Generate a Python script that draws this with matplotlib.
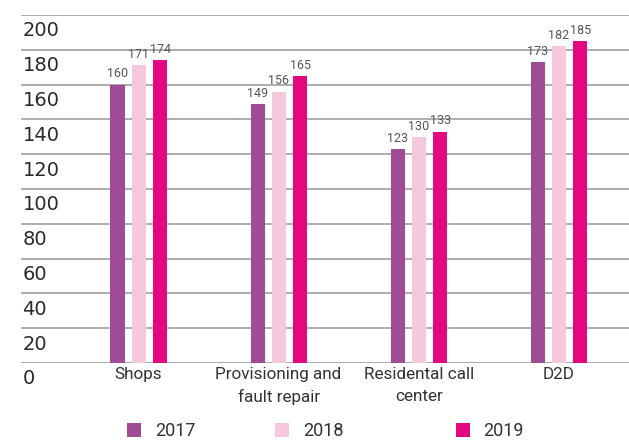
import matplotlib
matplotlib.use("Agg")
import matplotlib.pyplot as plt
import matplotlib.transforms as mtransforms
from matplotlib.patches import Patch
import numpy as np

categories = ['Shops', 'Provisioning and\nfault repair', 'Residental call\ncenter', 'D2D']
years = ['2017', '2018', '2019']
v2017 = [160, 149, 123, 173]
v2018 = [171, 156, 130, 182]
v2019 = [174, 165, 133, 185]
colors = ['#a04b96', '#f6c8de', '#e3087f']

fam = ['Roboto', 'DejaVu Sans']

fig = plt.figure(figsize=(6.29, 4.46), dpi=100)
ax = fig.add_axes([21 / 629, 1 - 363 / 446, 1 - 21 / 629, 348 / 446])

x = np.arange(len(categories))
width = 0.1
offs = [-0.15, 0, 0.155]
for vals, off, col in zip([v2017, v2018, v2019], offs, colors):
    bars = ax.bar(x + off, vals, width, color=col, zorder=3)
    ax.bar_label(bars, padding=3, fontsize=9, color='#555555', family=fam)

ax.set_ylim(0, 200)
ax.set_xlim(-0.839, 3.502)
ax.set_yticks(range(0, 201, 20))
ax.yaxis.grid(True, color='#a0a0a0', linewidth=1.2, zorder=0)
for s in ax.spines.values():
    s.set_visible(False)

ax.set_xticks(x)
ax.set_xticklabels(categories, fontsize=12.3, color='#333333', family=fam,
                   linespacing=1.55)
ax.tick_params(axis='x', length=0, pad=3)
ax.tick_params(axis='y', length=0, pad=-1, labelsize=14, labelcolor='#2a2a2a')

shift = mtransforms.ScaledTranslation(0, -16 / 100, fig.dpi_scale_trans)
for lab in ax.get_yticklabels():
    lab.set_horizontalalignment('left')
    lab.set_verticalalignment('center')
    lab.set_transform(lab.get_transform() + shift)

# one legend entry per year, placed like the original
leg_x = [127, 275, 456]
for year, col, lx in zip(years, colors, leg_x):
    fig.legend([Patch(facecolor=col)], [year], loc='center left', frameon=False,
               bbox_to_anchor=(lx / 629, 1 - 431 / 446), borderpad=0, borderaxespad=0,
               prop={'family': fam, 'size': 13},
               handlelength=0.78, handleheight=0.78, handletextpad=0.75,
               labelcolor='#333333')

fig.savefig('out.png', dpi=100)
